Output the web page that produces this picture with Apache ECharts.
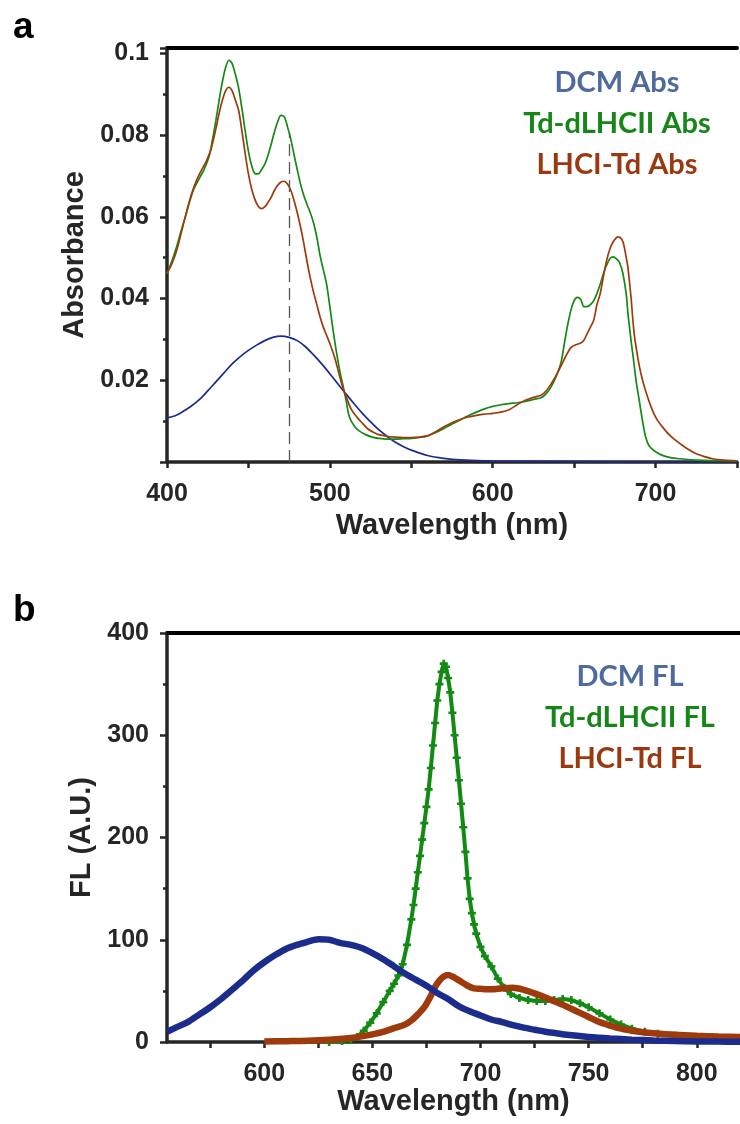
<!DOCTYPE html>
<html><head><meta charset="utf-8">
<script src="https://cdn.jsdelivr.net/npm/echarts@6/dist/echarts.min.js"></script>
<style>html,body{margin:0;padding:0;background:#fff}#c{width:740px;height:1124px}</style>
</head><body><div id="c"></div>
<script>
// ---------- Panel a : absorbance ----------
const dcmAbs = [[400,0.0108],[405,0.0113],[410,0.0124],[415,0.0137],[420,0.0153],[425,0.0174],[430,0.0196],[435,0.0218],[440,0.0240],[445,0.0258],[450,0.0273],[455,0.0286],[460,0.0297],[465,0.0305],[470,0.0308],[475,0.0305],[480,0.0297],[485,0.0282],[490,0.0262],[495,0.0240],[500,0.0216],[505,0.0191],[510,0.0166],[515,0.0142],[520,0.0119],[525,0.0098],[530,0.0079],[535,0.0063],[540,0.0049],[545,0.0038],[550,0.0029],[560,0.0016],[570,0.0009],[580,0.0005],[600,0.0002],[650,0.0001],[700,0.0],[750,0.0]];
const tdAbs = [[400,0.0461],[403,0.0492],[406,0.0528],[409,0.0570],[412,0.0610],[414,0.0638],[416,0.0663],[418,0.0680],[420,0.0695],[423,0.0718],[426,0.0750],[428,0.0790],[430,0.0835],[432,0.0885],[434,0.0930],[436,0.0965],[438,0.0983],[440,0.0975],[442,0.0948],[444,0.0915],[446,0.0865],[448,0.0810],[450,0.0760],[452,0.0725],[454,0.0706],[456,0.0705],[458,0.0715],[460,0.0728],[462,0.0750],[464,0.0778],[466,0.0808],[468,0.0833],[470,0.0848],[472,0.0845],[474,0.0820],[476,0.0790],[478,0.0752],[480,0.0715],[482,0.0680],[484,0.0652],[486,0.0630],[488,0.0610],[490,0.0585],[492,0.0550],[494,0.0505],[496,0.0470],[498,0.0435],[500,0.0380],[502,0.0322],[504,0.0270],[506,0.0225],[508,0.0188],[510,0.0150],[512,0.0110],[515,0.0088],[518,0.0076],[522,0.0067],[526,0.0061],[530,0.0058],[535,0.0056],[540,0.0056],[545,0.0057],[550,0.0058],[555,0.0060],[560,0.0064],[565,0.0072],[570,0.0082],[575,0.0093],[580,0.0103],[585,0.0113],[590,0.0122],[595,0.0130],[600,0.0136],[605,0.0140],[610,0.0143],[615,0.0145],[620,0.0148],[625,0.0153],[630,0.0158],[633,0.0168],[636,0.0185],[639,0.0210],[642,0.0245],[644,0.0290],[646,0.0335],[648,0.0371],[650,0.0395],[652,0.0403],[654,0.0398],[656,0.0380],[658,0.0380],[660,0.0385],[662,0.0395],[664,0.0412],[666,0.0435],[668,0.0461],[670,0.0482],[672,0.0498],[674,0.0502],[676,0.0497],[678,0.0487],[680,0.0460],[682,0.0410],[683,0.0365],[684,0.0330],[685,0.0295],[686,0.0265],[688,0.0200],[690,0.0150],[692,0.0100],[694,0.0060],[696,0.0040],[700,0.0025],[705,0.0015],[710,0.0010],[715,0.0008],[720,0.0006],[730,0.0004],[740,0.0003],[750,0.0002]];
const lhciAbs = [[400,0.0461],[403,0.0485],[406,0.0518],[409,0.0565],[412,0.0612],[415,0.0655],[418,0.0688],[421,0.0713],[424,0.0735],[427,0.0765],[430,0.0815],[432,0.0853],[434,0.0885],[436,0.0908],[438,0.0917],[440,0.0908],[442,0.0885],[444,0.0860],[446,0.0810],[448,0.0755],[450,0.0705],[452,0.0668],[454,0.0642],[456,0.0626],[458,0.0620],[460,0.0624],[462,0.0635],[464,0.0648],[466,0.0665],[468,0.0677],[470,0.0685],[472,0.0687],[474,0.0680],[476,0.0665],[478,0.0640],[480,0.0610],[482,0.0575],[484,0.0535],[486,0.0490],[488,0.0450],[490,0.0415],[492,0.0385],[494,0.0355],[496,0.0330],[498,0.0310],[500,0.0290],[503,0.0255],[506,0.0210],[508,0.0182],[510,0.0160],[513,0.0130],[517,0.0108],[520,0.0095],[523,0.0082],[527,0.0072],[530,0.0067],[535,0.0063],[540,0.0061],[545,0.0060],[550,0.0060],[555,0.0061],[560,0.0064],[565,0.0074],[570,0.0086],[575,0.0096],[580,0.0104],[585,0.0110],[590,0.0114],[595,0.0117],[600,0.0119],[605,0.0122],[610,0.0128],[615,0.0140],[620,0.0151],[625,0.0158],[630,0.0164],[633,0.0175],[636,0.0192],[639,0.0212],[642,0.0235],[645,0.0260],[648,0.0280],[651,0.0287],[654,0.0291],[656,0.0298],[658,0.0314],[660,0.0330],[662,0.0347],[664,0.0385],[666,0.0412],[668,0.0455],[670,0.0494],[672,0.0522],[674,0.0539],[676,0.0549],[677,0.0551],[678,0.0550],[680,0.0539],[682,0.0500],[683,0.0477],[684,0.0440],[685,0.0400],[686,0.0350],[687,0.0310],[688,0.0282],[690,0.0235],[692,0.0200],[695,0.0160],[698,0.0127],[701,0.0103],[704,0.0087],[708,0.0068],[712,0.0054],[715,0.0045],[720,0.0031],[725,0.0020],[730,0.0013],[735,0.0008],[740,0.0005],[750,0.0003]];
const markWl = 475;
const markTop = 0.0805;
const labelsA = ['DCM Abs','Td-dLHCII Abs','LHCI-Td Abs'];
const xTicksA = [400,500,600,700];
const yTicksA = [0.02,0.04,0.06,0.08,0.1];

// ---------- Panel b : fluorescence ----------
const dcmFL = [[555,10],[560,15],[565,20],[570,27],[575,34],[580,42],[585,51],[590,60],[595,70],[600,78],[605,85],[610,91],[615,95],[620,98],[625,100.5],[630,100],[635,97],[640,95],[645,92],[650,87],[655,81],[660,74],[665,67],[670,61],[675,55],[680,48],[685,42],[690,35],[695,30],[700,26],[705,22],[710,19.5],[715,16.5],[720,14],[725,12],[730,10],[735,8.5],[740,7],[750,5],[760,3.5],[770,2.3],[780,1.5],[790,1],[800,0.6],[810,0.4],[820,0.3]];
const tdFL = [[630,0],[636,1],[640,2],[643,5],[646,11],[649,19],[652,28],[655,39],[658,50],[660,57],[662,65],[664,76],[666,95],[668,120],[669,134],[670,150],[671,166],[672,182],[673,198],[674,214],[675,230],[676,247],[677,268],[678,290],[679,312],[680,334],[681,350],[682,362],[683,370],[684,367],[685,356],[686,342],[687,322],[688,300],[689,278],[690,256],[691,233],[692,210],[693,186],[694,160],[695,140],[696,126],[697,115],[698,106],[700,93],[702,84],[705,74],[708,62],[711,53],[714,47],[718,43],[722,41],[726,40],[730,40],[734,41],[738,42],[742,41],[746,38],[750,34],[755,28],[760,22],[765,17],[770,13],[776,10],[782,8],[790,6],[800,4.5],[810,3.5],[820,2.5]];
const lhciFL = [[600,0.5],[610,0.8],[620,1.2],[630,2.2],[640,4],[645,5.5],[650,7.5],[655,10],[660,13.5],[665,17],[668,21],[671,27],[674,34],[677,45],[679,54],[681,60],[683,64],[685,65.5],[687,64],[689,61.5],[691,59],[694,55],[697,52.5],[700,52],[705,51.5],[710,52.5],[715,53],[720,51],[725,47.5],[730,43.5],[735,39],[740,34.5],[745,29.5],[750,24.5],[755,19.5],[760,16],[765,13],[770,11],[775,9.5],[780,8.5],[790,7],[800,6],[810,5.3],[820,4.8]];
const labelsB = ['DCM FL','Td-dLHCII FL','LHCI-Td FL'];
const xTicksB = [600,650,700,750,800];
const xMinorB = [575,600,625,650,675,700,725,750,775,800];
const yTicksB = [0,100,200,300,400];

const cDCM = '#1c2c8c', cTd = '#138a13', cLH = '#9e3a0c';
const tDCM = '#4f6a9c', tTd = '#178619', tLH = '#9c3810';
const axCol = '#262626';
const tickFont = {fontSize:25, fontWeight:'bold', color:axCol, fontFamily:'Liberation Sans, Arial, sans-serif'};
const nameFont = {fontSize:29, fontWeight:'bold', color:axCol, fontFamily:'Liberation Sans, Arial, sans-serif'};
const near = (arr, v) => arr.some(t => Math.abs(t - v) < 1e-9);

const chart = echarts.init(document.getElementById('c'), null, {renderer:'canvas'});
const legendFont = 'bold 29px Lato, "Open Sans", sans-serif';
function legend(labels, cx, y0, dy){
  const cols = [tDCM, tTd, tLH];
  return labels.map((t,i)=>({type:'text', x:cx, y:y0+i*dy, style:{text:t, font:legendFont, fill:cols[i], align:'center', verticalAlign:'middle'}}));
}
const option = {
  animation:false,
  backgroundColor:'#fff',
  grid:[
    {left:167, top:48, width:578, height:414},
    {left:167, top:633, width:576, height:409}
  ],
  xAxis:[
    {gridIndex:0, type:'value', min:400, max:750, interval:50, position:'bottom',
     axisLine:{show:true, onZero:false, lineStyle:{color:axCol, width:3.5}},
     axisTick:{show:true, inside:false, length:6, lineStyle:{color:axCol, width:2.5}},
     axisLabel:{...tickFont, margin:20, formatter:v=>near(xTicksA,v)?String(v):''},
     splitLine:{show:false},
     name:'Wavelength (nm)', nameLocation:'middle', nameGap:49, nameTextStyle:nameFont},
    {gridIndex:0, type:'value', min:400, max:750, position:'top',
     axisLine:{show:true, onZero:false, lineStyle:{color:'#000', width:4}},
     axisTick:{show:false}, axisLabel:{show:false}, splitLine:{show:false}},
    {gridIndex:1, type:'value', min:555, max:820, position:'bottom',
     axisLine:{show:true, onZero:false, lineStyle:{color:axCol, width:3.5}},
     axisTick:{show:true, inside:false, length:6, customValues:xMinorB, lineStyle:{color:axCol, width:2.5}},
     axisLabel:{...tickFont, margin:20, customValues:xTicksB, formatter:v=>String(v)},
     splitLine:{show:false},
     name:'Wavelength (nm)', nameLocation:'middle', nameGap:45, nameTextStyle:nameFont},
    {gridIndex:1, type:'value', min:555, max:820, position:'top',
     axisLine:{show:true, onZero:false, lineStyle:{color:'#000', width:4}},
     axisTick:{show:false}, axisLabel:{show:false}, splitLine:{show:false}}
  ],
  yAxis:[
    {gridIndex:0, type:'value', min:0, max:0.1013, interval:0.02, position:'left',
     axisLine:{show:true, onZero:false, lineStyle:{color:axCol, width:3.5}},
     axisTick:{show:true, inside:false, length:7, lineStyle:{color:axCol, width:2.5}},
     minorTick:{show:true, splitNumber:2, length:4, lineStyle:{color:axCol, width:2.5}},
     axisLabel:{...tickFont, margin:18, formatter:v=>near(yTicksA,v)?String(parseFloat(v.toFixed(2))):''},
     splitLine:{show:false},
     name:'Absorbance', nameLocation:'middle', nameGap:76, nameTextStyle:nameFont},
    {gridIndex:1, type:'value', min:0, max:400, interval:100, position:'left',
     axisLine:{show:true, onZero:false, lineStyle:{color:axCol, width:3.5}},
     axisTick:{show:true, inside:false, length:7, lineStyle:{color:axCol, width:2.5}},
     minorTick:{show:true, splitNumber:2, length:4, lineStyle:{color:axCol, width:2.5}},
     axisLabel:{...tickFont, margin:18, formatter:v=>near(yTicksB,v)?String(v):''},
     splitLine:{show:false},
     name:'FL (A.U.)', nameLocation:'middle', nameGap:64, nameTextStyle:nameFont}
  ],
  series:[
    {name:labelsA[0], type:'line', xAxisIndex:0, yAxisIndex:0, data:dcmAbs, showSymbol:false, smooth:0.3, lineStyle:{color:cDCM, width:1.7}, z:3},
    {name:labelsA[1], type:'line', xAxisIndex:0, yAxisIndex:0, data:tdAbs, showSymbol:false, smooth:0.3, lineStyle:{color:cTd, width:1.7}, z:3,
     markLine:{silent:true, symbol:['none','none'], label:{show:false},
       lineStyle:{color:'#555', width:1.3, type:[12,6]},
       data:[[{coord:[markWl,0]},{coord:[markWl,markTop]}]]}},
    {name:labelsA[2], type:'line', xAxisIndex:0, yAxisIndex:0, data:lhciAbs, showSymbol:false, smooth:0.3, lineStyle:{color:cLH, width:1.7}, z:3},
    {name:labelsB[1], type:'line', xAxisIndex:2, yAxisIndex:1, data:tdFL, showSymbol:true,
     symbol:'path://M2,0H4V2H6V4H4V6H2V4H0V2H2Z', symbolSize:8,
     itemStyle:{color:cTd}, lineStyle:{color:cTd, width:4}, z:3},
    {name:labelsB[2], type:'line', xAxisIndex:2, yAxisIndex:1, data:lhciFL, showSymbol:false, smooth:0.3, lineStyle:{color:cLH, width:6.5}, z:4},
    {name:labelsB[0], type:'line', xAxisIndex:2, yAxisIndex:1, data:dcmFL, showSymbol:false, smooth:0.3, lineStyle:{color:cDCM, width:6.5}, z:5}
  ],
  graphic:[
    {type:'text', x:13, y:28, style:{text:'a', font:'bold 37px "Liberation Sans", Arial, sans-serif', fill:'#000', align:'left', verticalAlign:'middle'}},
    {type:'text', x:13, y:611, style:{text:'b', font:'bold 37px "Liberation Sans", Arial, sans-serif', fill:'#000', align:'left', verticalAlign:'middle'}},
    ...legend(labelsA, 617, 83, 41),
    ...legend(labelsB, 630, 677, 41)
  ]
};
chart.setOption(option);
</script>
</body></html>
